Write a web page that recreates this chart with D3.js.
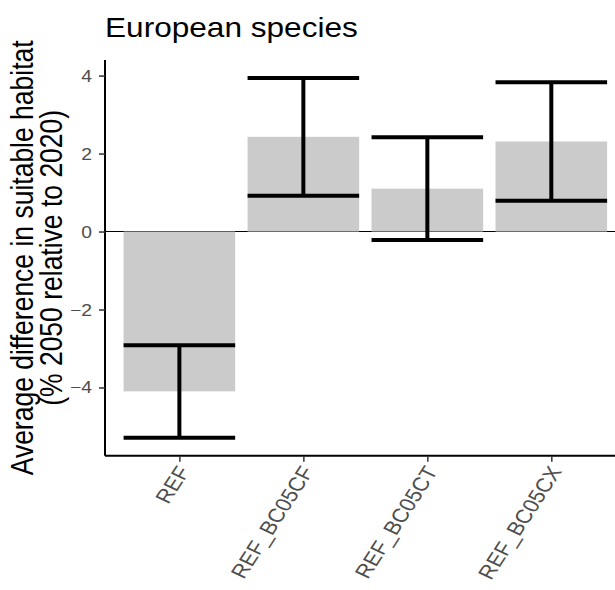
<!DOCTYPE html>
<html>
<head>
<meta charset="utf-8">
<script src="https://cdn.jsdelivr.net/npm/d3@7"></script>
<style>
  body { margin: 0; background: #fff; }
  text { font-family: "Liberation Sans", Arial, sans-serif; }
</style>
</head>
<body>
<svg id="chart" width="615" height="590"></svg>
<script>
// scenarios on the x axis
const scenarios = ["REF", "REF_BC05CF", "REF_BC05CT", "REF_BC05CX"];
// mean difference (bar height)
const meanDiff = [-4.10, 2.43, 1.10, 2.31];
// error bar ends
const lowerCI = [-5.29, 0.92, -0.22, 0.79];
const upperCI = [-2.92, 3.94, 2.42, 3.83];
const yTicks = [-4, -2, 0, 2, 4];

const W = 615, H = 590;
const sx = 1.17; // the picture is a little wider than tall
const plotLeft = 105, plotTop = 60, plotBottom = 455.7;

const svg = d3.select("#chart");
svg.append("rect").attr("width", W).attr("height", H).attr("fill", "#fff");

const x = d3.scalePoint()
    .domain(scenarios)
    .range([plotLeft, 625.7]) // right edge runs past the window
    .padding(0.6);
const bw = x.step() * 0.9;

const y = d3.scaleLinear()
    .domain([-5.75, 4.40])
    .range([plotBottom, plotTop]);

const rows = scenarios.map((s, i) => ({ s, m: meanDiff[i], lo: lowerCI[i], hi: upperCI[i] }));

// helper: text stretched sideways like the rest of the picture
function stretched(g, px, py, angle) {
    return g.append("text")
        .attr("transform", `translate(${px},${py}) scale(${sx},1)` + (angle ? ` rotate(${angle})` : ""));
}

// zero line
svg.append("line")
    .attr("x1", plotLeft).attr("x2", W)
    .attr("y1", y(0)).attr("y2", y(0))
    .attr("stroke", "#000").attr("stroke-width", 1.1);

// bars
svg.append("g").selectAll("rect")
    .data(rows)
    .join("rect")
    .attr("x", d => x(d.s) - bw / 2)
    .attr("width", bw)
    .attr("y", d => y(Math.max(0, d.m)))
    .attr("height", d => Math.abs(y(d.m) - y(0)))
    .attr("fill", "#cbcbcb");

// error bars
const eb = svg.append("g").attr("stroke", "#000").attr("stroke-width", 4);
eb.selectAll("line.v")
    .data(rows)
    .join("line")
    .attr("class", "v")
    .attr("x1", d => x(d.s)).attr("x2", d => x(d.s))
    .attr("y1", d => y(d.lo)).attr("y2", d => y(d.hi));
eb.selectAll("line.lo")
    .data(rows)
    .join("line")
    .attr("class", "lo")
    .attr("x1", d => x(d.s) - bw / 2).attr("x2", d => x(d.s) + bw / 2)
    .attr("y1", d => y(d.lo)).attr("y2", d => y(d.lo));
eb.selectAll("line.hi")
    .data(rows)
    .join("line")
    .attr("class", "hi")
    .attr("x1", d => x(d.s) - bw / 2).attr("x2", d => x(d.s) + bw / 2)
    .attr("y1", d => y(d.hi)).attr("y2", d => y(d.hi));

// y axis
const yAxis = svg.append("g")
    .attr("transform", `translate(${plotLeft},0)`)
    .call(d3.axisLeft(y).tickValues(yTicks).tickSize(6).tickFormat(""));
yAxis.select(".domain").attr("stroke", "#000").attr("stroke-width", 2)
    .attr("d", `M0,${plotTop}V${plotBottom}`);
yAxis.selectAll(".tick line").attr("stroke", "#333").attr("stroke-width", 1.5);
yTicks.forEach(t => {
    stretched(svg, 92, y(t) + 6, 0)
        .attr("text-anchor", "end")
        .attr("font-size", 16.5)
        .attr("fill", "#4d4d4d")
        .text(d3.format("d")(t));
});

// x axis
const xAxis = svg.append("g")
    .attr("transform", `translate(0,${plotBottom})`)
    .call(d3.axisBottom(x).tickSize(6).tickFormat(""));
xAxis.select(".domain").attr("stroke", "#000").attr("stroke-width", 2)
    .attr("d", `M${plotLeft},0H${W + 20}`);
xAxis.selectAll(".tick line").attr("stroke", "#333").attr("stroke-width", 1.5);
scenarios.forEach(s => {
    stretched(svg, x(s) + 11, 471, -61)
        .attr("text-anchor", "end")
        .attr("font-size", 19.5)
        .attr("fill", "#4d4d4d")
        .text(s);
});

// axis title, two lines
const midY = (plotTop + plotBottom) / 2;
stretched(svg, 33, midY, -90)
    .attr("text-anchor", "middle")
    .attr("font-size", 26.5)
    .attr("fill", "#000")
    .text("Average difference in suitable habitat");
stretched(svg, 62, midY, -90)
    .attr("text-anchor", "middle")
    .attr("font-size", 26.5)
    .attr("fill", "#000")
    .text("(% 2050 relative to 2020)");

// title
stretched(svg, 105, 37, 0)
    .attr("font-size", 27)
    .attr("fill", "#000")
    .text("European species");
</script>
</body>
</html>
